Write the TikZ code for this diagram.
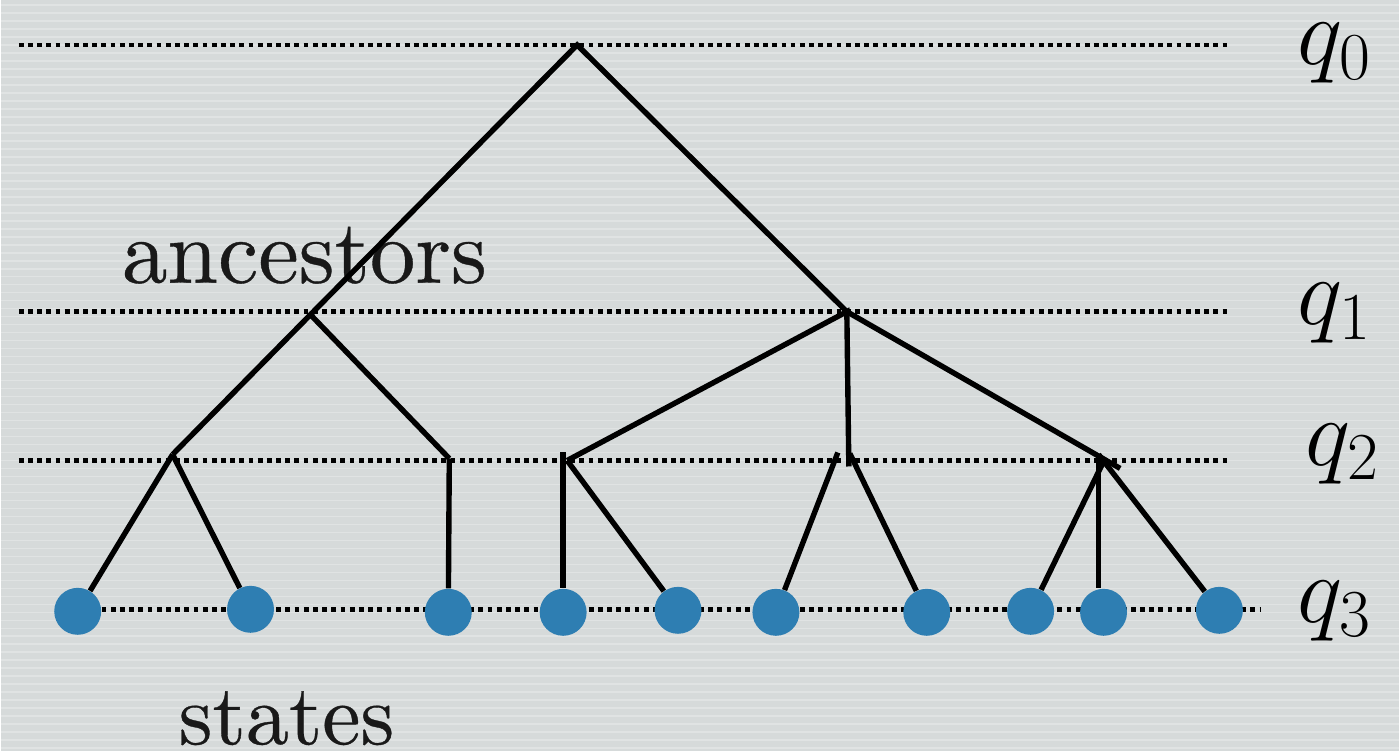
\RequirePackage{fix-cm}
\documentclass[tikz,border=0pt]{standalone}
\usepackage{fontspec}
\newfontfamily\wordfont{lmroman10-regular}[Extension=.otf, FakeBold=0.4]
\definecolor{bg}{RGB}{214,218,218}
\definecolor{leafblue}{RGB}{46,126,178}
\tikzset{
  edge/.style={line width=2.7pt, line cap=butt},
  levelline/.style={line width=2.4pt, dash pattern=on 2.4pt off 2.2pt},
  leaf/.style={circle, fill=leafblue, minimum size=23.5pt, inner sep=0pt},
  qlab/.style={anchor=base west, inner sep=0pt, font=\fontsize{48}{52}\selectfont},
  word/.style={anchor=base, inner sep=0pt, text=black!90},
}
\begin{document}
\begin{tikzpicture}[x=0.5pt,y=-0.5pt]
\fill[bg] (0,0) rectangle (1400,752);
\foreach \y in {5,13,...,752} \draw[white,opacity=0.25,line width=0.8pt] (0,\y) -- (1400,\y);
\useasboundingbox (0,0) rectangle (1400,752);

% level lines
\coordinate (l0a) at (18,45);   \coordinate (l0b) at (1228,45);
\coordinate (l1a) at (18,312);  \coordinate (l1b) at (1228,312);
\coordinate (l2a) at (18,461);  \coordinate (l2b) at (1228,461);
\coordinate (l3a) at (55,610);  \coordinate (l3b) at (1262,610);
\draw[levelline] (l0a) -- (l0b);
\draw[levelline] (l1a) -- (l1b);
\draw[levelline] (l2a) -- (l2b);
\draw[levelline] (l3a) -- (l3b);

% labels
\node[qlab] (q0) at (1298,65) {$q_0$};
\node[qlab] (q1) at (1298,325) {$q_1$};
\node[qlab] (q2) at (1306,466) {$q_2$};
\node[qlab] (q3) at (1298,623) {$q_3$};
\node[word, font=\wordfont\fontsize{45.5}{50}\selectfont] (anc) at (304,283) {ancestors};
\node[word, font=\wordfont\fontsize{43}{48}\selectfont] (st) at (286,745) {states};

% internal points
\coordinate (r) at (577,45);
\coordinate (a) at (310,315);
\coordinate (b) at (847,312);
\coordinate (c) at (172,455);
\coordinate (d) at (449,459);
\coordinate (e) at (567,461);
\coordinate (etop) at (563,453);
\coordinate (f) at (849,467);
\coordinate (fl) at (838,453);
\coordinate (fr) at (850,454);
\coordinate (g) at (1105,460);
\coordinate (gtop) at (1099,455);

% leaves
\node[leaf] (s1) at (77,612) {};
\node[leaf] (s2) at (250,610) {};
\node[leaf] (s3) at (448,613) {};
\node[leaf] (s4) at (563,613) {};
\node[leaf] (s5) at (678,611) {};
\node[leaf] (s6) at (776,613) {};
\node[leaf] (s7) at (927,613) {};
\node[leaf] (s8) at (1031,612) {};
\node[leaf] (s9) at (1104,613) {};
\node[leaf] (s10) at (1220,611) {};

% tree edges
\draw[edge] (a) -- (r) -- (b);
\draw[edge] (c) -- (a) -- (d);
\draw[edge] (e) -- (b) -- (f);
\draw[edge, shorten >=-9pt] (b) -- (g);
\draw[edge] (c) -- (s1);
\draw[edge] (c) -- (s2);
\draw[edge] (d) -- (s3);
\draw[edge] (etop) -- (s4);
\draw[edge] (e) -- (s5);
\draw[edge] (fl) -- (s6);
\draw[edge] (fr) -- (s7);
\draw[edge] (g) -- (s8);
\draw[edge] (gtop) -- (gtop |- s9.north);
\draw[edge] (gtop) -- (s10);
\end{tikzpicture}
\end{document}
